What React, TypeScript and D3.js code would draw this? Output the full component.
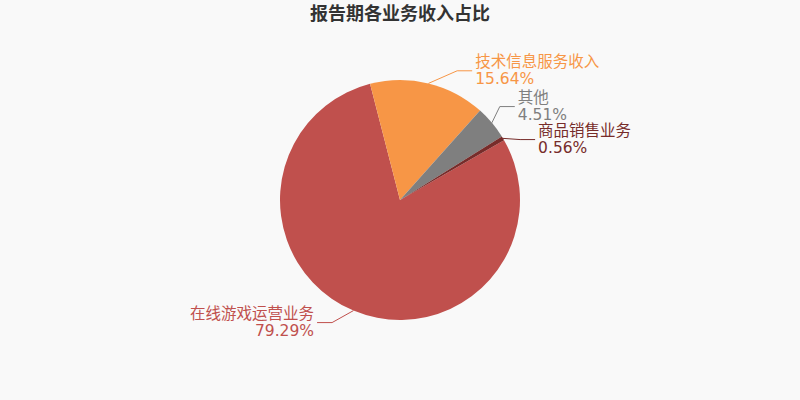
import React, { useRef, useEffect } from "react";
import * as d3 from "d3";

const categories = ["在线游戏运营业务", "技术信息服务收入", "其他", "商品销售业务"];
const shares = [79.29, 15.64, 4.51, 0.56];
const colors = ["#c0504d", "#f79646", "#7f7f7f", "#772c2a"];
const title = "报告期各业务收入占比";

type Label = {
    name: string;
    pct: number;
    color: string;
    start: [number, number];
    x: number;
    y: number;
    dir: number;
};

const App: React.FC = () => {
    const ref = useRef<SVGSVGElement | null>(null);

    useEffect(() => {
        if (!ref.current) return;
        const svg = d3.select(ref.current);
        svg.selectAll("*").remove();

        const width = 800;
        const height = 400;
        const cx = width / 2;
        const cy = height / 2;
        const radius = 120;
        const len = 13;
        const len2 = 15;
        const font = "'DejaVu Sans', 'Noto Sans CJK SC', sans-serif";

        svg.append("rect").attr("width", width).attr("height", height).attr("fill", "#f9f9f9");

        svg
            .append("text")
            .attr("x", cx)
            .attr("y", 13)
            .attr("text-anchor", "middle")
            .attr("dominant-baseline", "central")
            .attr("font-family", font)
            .attr("font-size", 18)
            .attr("font-weight", "bold")
            .attr("fill", "#333")
            .text(title);

        const start = (60.1 * Math.PI) / 180;
        const pie = d3
            .pie<number>()
            .sort(null)
            .value(d => d)
            .startAngle(start)
            .endAngle(start + Math.PI * 2);
        const arcs = pie(shares);

        const arc = d3.arc<d3.PieArcDatum<number>>().innerRadius(0).outerRadius(radius);

        const g = svg.append("g").attr("transform", `translate(${cx},${cy})`);
        g.selectAll("path")
            .data(arcs)
            .enter()
            .append("path")
            .attr("d", arc as any)
            .attr("fill", (_, i) => colors[i]);

        // label positions, echarts-like
        const labels: Label[] = arcs.map((a, i) => {
            const mid = (a.startAngle + a.endAngle) / 2;
            const s = Math.sin(mid);
            const c = -Math.cos(mid);
            return {
                name: categories[i],
                pct: shares[i],
                color: colors[i],
                start: [cx + radius * s, cy + radius * c],
                x: cx + (radius + len) * s,
                y: cy + (radius + len) * c,
                dir: s >= 0 ? 1 : -1,
            };
        });

        const gap = 33;
        [1, -1].forEach(dir => {
            const side = labels.filter(l => l.dir === dir).sort((a, b) => a.y - b.y);
            for (let it = 0; it < 50; it++) {
                for (let k = 1; k < side.length; k++) {
                    const d = side[k].y - side[k - 1].y;
                    if (d < gap) {
                        const m = (gap - d) / 2;
                        side[k - 1].y -= m;
                        side[k].y += m;
                    }
                }
            }
            const R = radius + len + len2;
            side.forEach(l => {
                const dy = Math.abs(l.y - cy);
                const dx = dy < R ? Math.sqrt(R * R - dy * dy) : Math.abs(l.x - cx) + len2;
                l.x = cx + dx * dir;
            });
        });

        labels.forEach(l => {
            const elbowX = l.x - len2 * l.dir;
            svg
                .append("polyline")
                .attr("points", `${l.start[0]},${l.start[1]} ${elbowX},${l.y} ${l.x},${l.y}`)
                .attr("fill", "none")
                .attr("stroke", l.color)
                .attr("stroke-width", 1);

            const t = svg
                .append("text")
                .attr("font-family", font)
                .attr("font-size", 15.5)
                .attr("fill", l.color)
                .attr("text-anchor", l.dir > 0 ? "start" : "end");
            t.append("tspan")
                .attr("x", l.x + 3 * l.dir)
                .attr("y", l.y - 8.5)
                .attr("dominant-baseline", "central")
                .text(l.name);
            t.append("tspan")
                .attr("x", l.x + 3 * l.dir)
                .attr("y", l.y + 8.5)
                .attr("dominant-baseline", "central")
                .text(`${l.pct.toFixed(2)}%`);
        });
    }, []);

    return (
        <div style={{ position: "fixed", left: 0, top: 0, width: 800, height: 400 }}>
            <svg ref={ref} width={800} height={400} />
        </div>
    );
};

export default App;
